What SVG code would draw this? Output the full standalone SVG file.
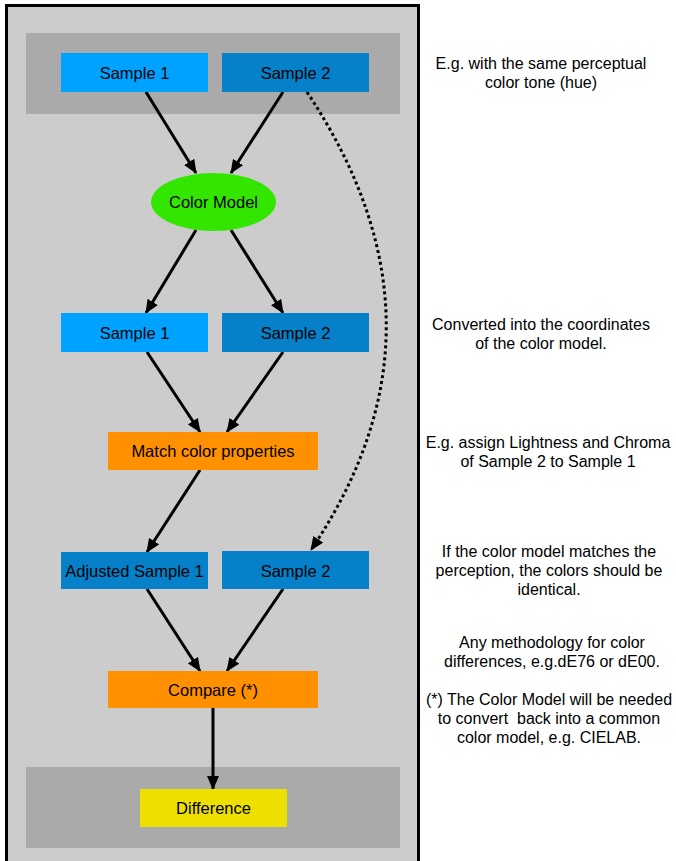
<svg xmlns="http://www.w3.org/2000/svg" width="676" height="861" viewBox="0 0 676 861">
<defs>
<marker id="ah" viewBox="0 0 14 12" refX="13" refY="6" markerWidth="14" markerHeight="12" markerUnits="userSpaceOnUse" orient="auto">
<path d="M0,0 L14,6 L0,12 Z" fill="#000"/>
</marker>
</defs>
<style>
.lbl{font-family:"Liberation Sans",Arial,Helvetica,sans-serif;font-size:16.5px;fill:#000;text-anchor:middle}
.note{font-family:"Liberation Sans",Arial,Helvetica,sans-serif;font-size:16px;fill:#000;text-anchor:middle}
.edge{stroke:#000;stroke-width:3;fill:none;marker-end:url(#ah)}
.dot{stroke:#000;stroke-width:3;fill:none;stroke-dasharray:3 3;marker-end:url(#ah)}
.band{fill:#aaaaaa}
.s1{fill:#00a2ff}
.s2{fill:#0580c9}
.or{fill:#ff9100}
</style>
<rect x="0" y="0" width="676" height="861" fill="#fff"/>
<g id="frame">
<rect x="6.5" y="5.5" width="412" height="870" fill="#cccccc" stroke="#000" stroke-width="3"/>
<rect class="band" x="26" y="33" width="374" height="81"/>
<rect class="band" x="26" y="767" width="374" height="81"/>
</g>
<g id="connectors">
<line class="edge" x1="146" y1="92" x2="196" y2="173"/>
<line class="edge" x1="283" y1="92" x2="231" y2="173"/>
<line class="edge" x1="196" y1="230" x2="146" y2="313"/>
<line class="edge" x1="231" y1="230" x2="283" y2="313"/>
<line class="edge" x1="147" y1="352" x2="200" y2="432"/>
<line class="edge" x1="283" y1="352" x2="227" y2="432"/>
<line class="edge" x1="200" y1="470" x2="147" y2="552"/>
<line class="edge" x1="147" y1="589" x2="200" y2="671"/>
<line class="edge" x1="283" y1="589" x2="227" y2="671"/>
<line class="edge" x1="213" y1="708" x2="213" y2="789"/>
<path class="dot" d="M307,92 C412,250 412,400 311,550"/>
</g>
<g id="sample1-top"><rect class="s1" x="61" y="53" width="147" height="39"/><text class="lbl" x="134.5" y="78.5">Sample 1</text></g>
<g id="sample2-top"><rect class="s2" x="222" y="53" width="147" height="39"/><text class="lbl" x="295.5" y="78.5">Sample 2</text></g>
<g id="color-model"><ellipse cx="213.5" cy="202" rx="62.5" ry="29" fill="#33e600"/><text class="lbl" x="213.5" y="208">Color Model</text></g>
<g id="sample1-mid"><rect class="s1" x="61" y="313" width="147" height="39"/><text class="lbl" x="134.5" y="338.5">Sample 1</text></g>
<g id="sample2-mid"><rect class="s2" x="222" y="313" width="147" height="39"/><text class="lbl" x="295.5" y="338.5">Sample 2</text></g>
<g id="match"><rect class="or" x="108" y="432" width="210" height="38"/><text class="lbl" x="213" y="457">Match color properties</text></g>
<g id="adjusted-sample1"><rect class="s2" x="61" y="552" width="147" height="37"/><text class="lbl" x="134.5" y="576.5">Adjusted Sample 1</text></g>
<g id="sample2-low"><rect class="s2" x="222" y="551" width="147" height="38"/><text class="lbl" x="295.5" y="576.5">Sample 2</text></g>
<g id="compare"><rect class="or" x="108" y="671" width="210" height="37"/><text class="lbl" x="213" y="695.5">Compare (*)</text></g>
<g id="difference"><rect x="140" y="789" width="147" height="38" fill="#eddf00"/><text class="lbl" x="213.5" y="814">Difference</text></g>
<g id="notes">
<text class="note" x="541" y="69">E.g. with the same perceptual</text>
<text class="note" x="541" y="88">color tone (hue)</text>
<text class="note" x="541" y="330">Converted into the coordinates</text>
<text class="note" x="541" y="349">of the color model.</text>
<text class="note" x="548" y="448">E.g. assign Lightness and Chroma</text>
<text class="note" x="548" y="467">of Sample 2 to Sample 1</text>
<text class="note" x="549" y="557">If the color model matches the</text>
<text class="note" x="549" y="576">perception, the colors should be</text>
<text class="note" x="549" y="595">identical.</text>
<text class="note" x="552" y="648">Any methodology for color</text>
<text class="note" x="552" y="667">differences, e.g.dE76 or dE00.</text>
<text class="note" x="549" y="705">(*) The Color Model will be needed</text>
<text class="note" x="549" y="724" xml:space="preserve">to convert  back into a common</text>
<text class="note" x="549" y="743">color model, e.g. CIELAB.</text>
</g>
</svg>
